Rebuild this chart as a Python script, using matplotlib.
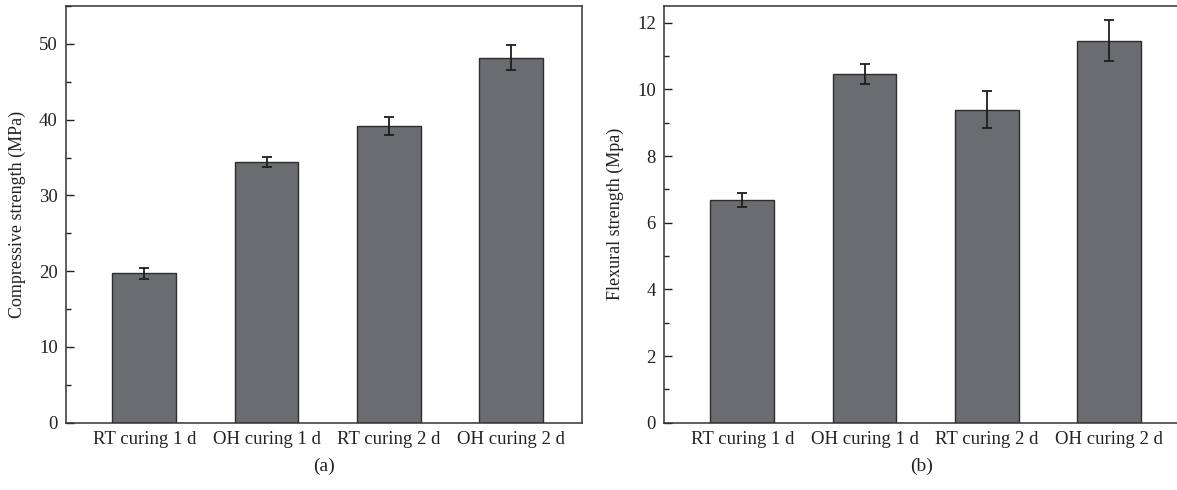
import matplotlib
matplotlib.use("Agg")
import matplotlib.pyplot as plt
from matplotlib.ticker import MultipleLocator

categories = ["RT curing 1 d", "OH curing 1 d", "RT curing 2 d", "OH curing 2 d"]
compressive = [19.7, 34.4, 39.2, 48.2]
compressive_err = [0.7, 0.7, 1.2, 1.6]
flexural = [6.68, 10.46, 9.39, 11.46]
flexural_err = [0.22, 0.3, 0.55, 0.61]

plt.rcParams['font.family'] = ['Liberation Serif', 'DejaVu Serif']

fig = plt.figure(figsize=(11.77, 4.9), dpi=100)
W, H = 1177, 490

def make_ax(left_px, right_px):
    return fig.add_axes([left_px / W, 1 - 422.7 / H, (right_px - left_px) / W, (422.7 - 6) / H])

axa = make_ax(66, 582)
axb = make_ax(664, 1180)

bar_color = '#6b6c70'
edge_color = '#2e2e2e'

def draw(ax, vals, errs, ylim, major, minor, ylabel, panel):
    x = list(range(len(categories)))
    ax.bar(x, vals, width=0.52, color=bar_color, edgecolor=edge_color, linewidth=1.0,
           yerr=errs, error_kw=dict(ecolor='#1e1e1e', elinewidth=1.3, capsize=3.3, capthick=1.3),
           zorder=2)
    ax.set_xlim(-0.64, 3.58)
    ax.set_ylim(*ylim)
    ax.set_xticks(x)
    ax.set_xticklabels(categories, fontsize=13.5, color='#222222')
    ax.tick_params(axis='x', length=0, pad=6)
    ax.yaxis.set_major_locator(MultipleLocator(major))
    ax.yaxis.set_minor_locator(MultipleLocator(minor))
    ax.tick_params(axis='y', which='major', direction='in', length=6, width=1, labelsize=13.5,
                   colors='#222222', pad=6)
    ax.tick_params(axis='y', which='minor', direction='in', length=3.5, width=1, colors='#222222')
    ax.set_ylabel(ylabel, fontsize=13, color='#222222', labelpad=9)
    for s in ax.spines.values():
        s.set_color('#333333')
        s.set_linewidth(1.1)
    ax.text(0.5, -0.104, panel, transform=ax.transAxes, ha='center', va='center', fontsize=14,
            color='#222222')

draw(axa, compressive, compressive_err, (0, 55), 10, 5, 'Compressive strength (MPa)', '(a)')
draw(axb, flexural, flexural_err, (0, 12.5), 2, 1, 'Flexural strength (Mpa)', '(b)')

fig.savefig('out.png', dpi=100)
